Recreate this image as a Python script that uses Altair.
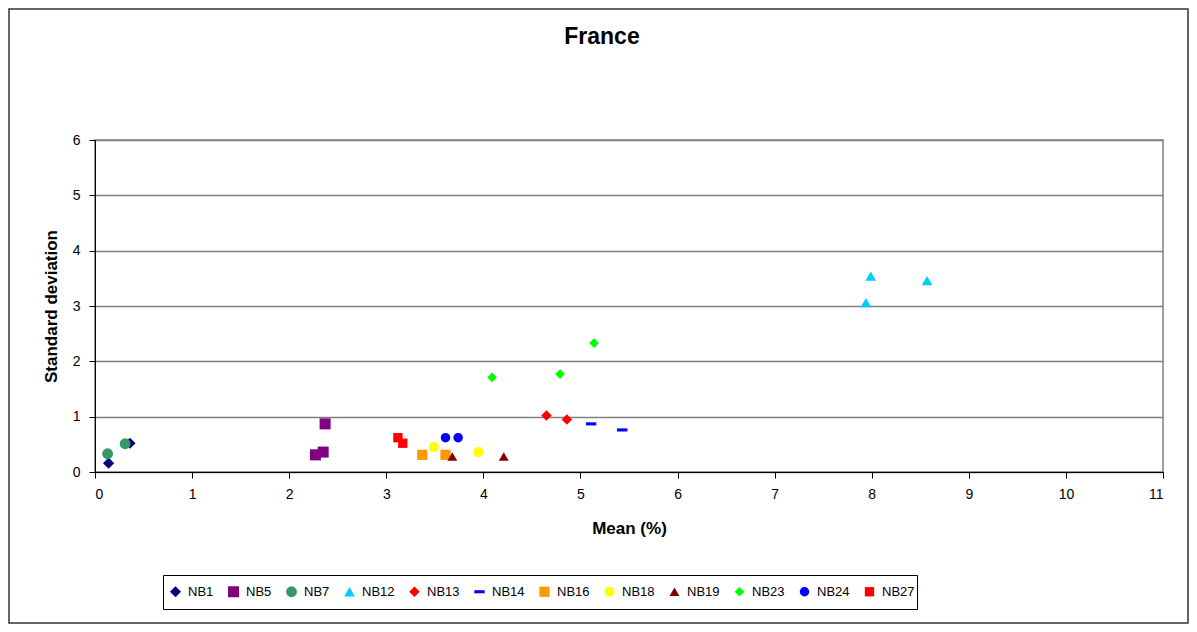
import altair as alt
import pandas as pd

series = ["NB1", "NB5", "NB7", "NB12", "NB13", "NB14", "NB16", "NB18", "NB19", "NB23", "NB24", "NB27"]

mean_vals = {
    "NB1": [0.14, 0.36],
    "NB5": [2.37, 2.35, 2.27],
    "NB7": [0.13, 0.31],
    "NB12": [7.99, 7.94, 8.57],
    "NB13": [4.65, 4.86],
    "NB14": [5.11, 5.43],
    "NB16": [3.37, 3.61],
    "NB18": [3.49, 3.95],
    "NB19": [3.68, 4.21],
    "NB23": [4.09, 4.79, 5.14],
    "NB24": [3.61, 3.74],
    "NB27": [3.12, 3.17],
}
sd_vals = {
    "NB1": [0.16, 0.52],
    "NB5": [0.87, 0.36, 0.31],
    "NB7": [0.33, 0.51],
    "NB12": [3.54, 3.06, 3.46],
    "NB13": [1.02, 0.95],
    "NB14": [0.87, 0.76],
    "NB16": [0.31, 0.31],
    "NB18": [0.45, 0.36],
    "NB19": [0.28, 0.28],
    "NB23": [1.71, 1.77, 2.33],
    "NB24": [0.62, 0.62],
    "NB27": [0.62, 0.52],
}

colors = ["#000080", "#800080", "#339966", "#00CCFF", "#FF0000", "#0000FF",
          "#FF9900", "#FFFF00", "#800000", "#00FF00", "#0000FF", "#FF0000"]
shapes = ["diamond", "square", "circle", "triangle-up", "diamond", "M-1,-0.3H1V0.3H-1Z",
          "square", "circle", "triangle-up", "diamond", "circle", "square"]
marker_sizes = [125, 87, 94, 130, 125, 100, 87, 94, 130, 125, 94, 87]

x_ticks = list(range(0, 12))
y_ticks = list(range(0, 7))

title_text = "France"
x_title = "Mean (%)"
y_title = "Standard deviation"

rows = []
for s in series:
    for m, sd in zip(mean_vals[s], sd_vals[s]):
        rows.append({"series": s, "mean": m, "sd": sd})
df = pd.DataFrame(rows)

FONT = "Liberation Sans"
W, H = 1068, 332
PAD = {"left": 87, "top": 132, "right": 26, "bottom": 152}

legend = alt.Legend(
    title=None, orient="none", legendX=74, legendY=445, direction="horizontal",
    columns=12, padding=0,
    labelFont=FONT, labelFontSize=13, labelColor="#000000", symbolSize=50,
    symbolStrokeWidth=0, labelOffset=6, columnPadding=13,
)

points = alt.Chart(df).mark_point(filled=True, opacity=1).encode(
    x=alt.X("mean:Q", scale=alt.Scale(domain=[0, 11], nice=False),
            axis=alt.Axis(values=x_ticks, title=x_title, grid=False, format="d",
                          titleY=56, titleBaseline="middle")),
    y=alt.Y("sd:Q", scale=alt.Scale(domain=[0, 6], nice=False),
            axis=alt.Axis(values=y_ticks, title=y_title, grid=True, format="d",
                          titleX=-44, titleY=H / 2, titleAngle=270, titleBaseline="middle",
                          titleAlign="center")),
    color=alt.Color("series:N", scale=alt.Scale(domain=series, range=colors), legend=legend),
    shape=alt.Shape("series:N", scale=alt.Scale(domain=series, range=shapes), legend=legend),
    size=alt.Size("series:N", scale=alt.Scale(domain=series, range=marker_sizes), legend=None),
)

one = alt.Data(values=[{"a": 1}])

frame = alt.Chart(one).mark_rect(
    filled=False, stroke="#333333", strokeWidth=1.5
).encode(
    x=alt.value(-PAD["left"] + 1), x2=alt.value(W + PAD["right"] - 1),
    y=alt.value(-PAD["top"] + 1), y2=alt.value(H + PAD["bottom"] - 1),
)

legend_box = alt.Chart(one).mark_rect(
    filled=False, stroke="#000000", strokeWidth=1
).encode(
    x=alt.value(68.5), x2=alt.value(822.5), y=alt.value(435.5), y2=alt.value(469.5),
)

title = alt.Chart(one).mark_text(
    text=title_text, font=FONT, fontSize=23, fontWeight="bold", color="#000000",
    align="center", baseline="alphabetic"
).encode(x=alt.value(507), y=alt.value(-96))

chart = alt.layer(frame, legend_box, title, points).properties(
    width=W, height=H, padding=PAD,
    autosize=alt.AutoSizeParams(type="none"),
    background="#ffffff",
).configure_view(
    stroke="#808080", strokeWidth=1.5
).configure_axis(
    labelFont=FONT, labelFontSize=14, labelColor="#000000",
    titleFont=FONT, titleFontSize=17, titleFontWeight="bold", titleColor="#000000",
    domainColor="#000000", domainWidth=1, tickColor="#000000", tickSize=6,
    gridColor="#808080", gridWidth=1.5, gridOpacity=1, labelPadding=9,
)

chart.save("out.html", embed_options={"renderer": "svg", "actions": False})
